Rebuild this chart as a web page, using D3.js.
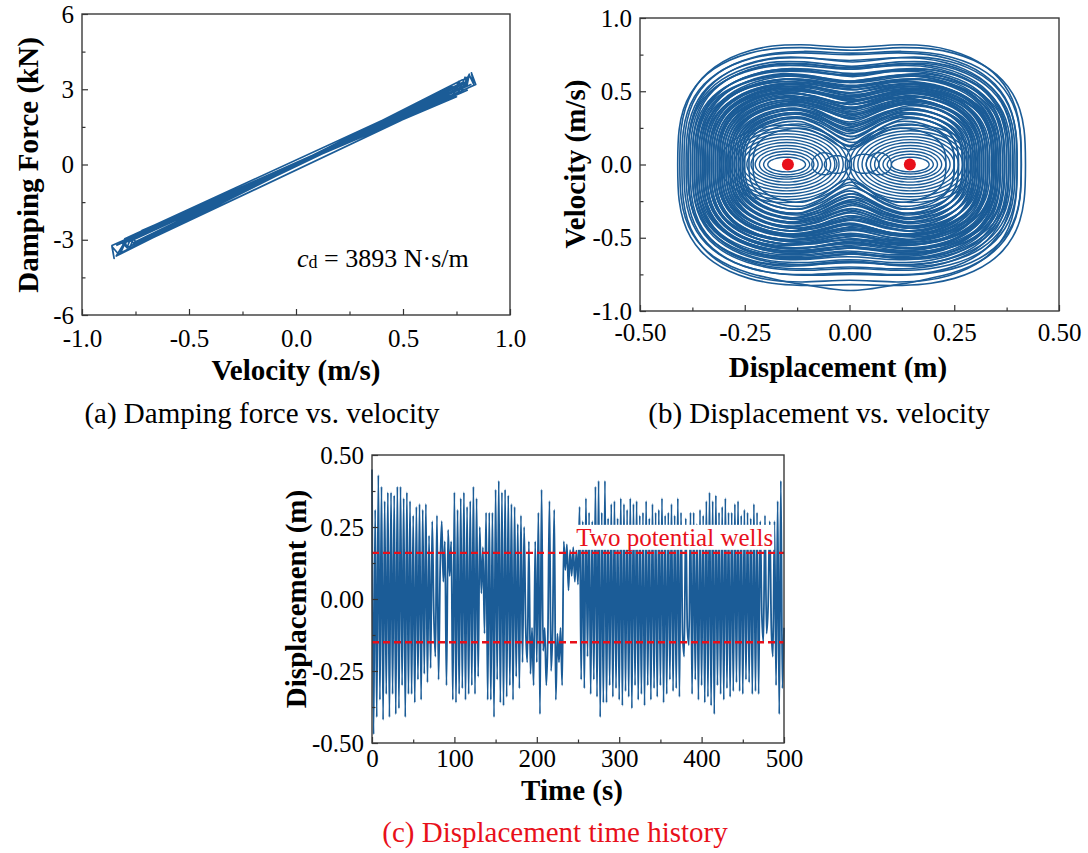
<!DOCTYPE html>
<html>
<head>
<meta charset="utf-8">
<script src="https://cdn.jsdelivr.net/npm/d3@7"></script>
<style>
  body { margin: 0; background: #fff; }
  svg { font-family: "Liberation Serif", "Times New Roman", serif; }
</style>
</head>
<body>
<svg id="fig" width="1088" height="853"></svg>
<script>
// ---- data ----

// (a) damping force vs velocity : turning points of the trace (m/s, kN)
const dampVel   = [-0.84, 0.62, -0.78, 0.70, 0.72, 0.74, 0.76, 0.78, 0.81, 0.83, 0.82, 0.84,
                   -0.70, 0.74, -0.66, 0.73, 0.75, 0.77, 0.79, -0.80, -0.82, -0.79, -0.84,
                   0.78, -0.60, 0.66, -0.74, -0.76, -0.78, 0.81, -0.82, 0.60, -0.76, 0.77, 0.79, 0.80,
                   -0.68, 0.72, -0.86, -0.85, -0.86, -0.83, 0.68, -0.72, 0.75, -0.64, 0.80,
                   -0.77, -0.79, -0.80, 0.71, -0.81, 0.64, -0.70, 0.79, 0.81, 0.80,
                   -0.75, 0.73, -0.62, 0.69, -0.79, -0.81, 0.76, -0.73, 0.58, -0.67, 0.82];
const dampForce = [-3.23, 2.42, -3.08, 2.80, 3.10, 2.92, 3.31, 3.04, 3.56, 3.20, 3.65, 3.19,
                   -2.66, 2.78, -2.44, 2.66, 3.08, 2.85, 3.28, -2.96, -3.53, -2.96, -3.65,
                   3.28, -2.55, 2.84, -3.18, -2.96, -3.39, 3.52, -3.53, 2.52, -3.12, 3.08, 3.48, 3.16,
                   -2.65, 2.74, -3.23, -3.74, -3.27, -3.57, 2.52, -2.63, 2.70, -2.34, 2.96,
                   -2.89, -3.32, -3.04, 2.73, -3.16, 2.56, -2.87, 3.24, 3.60, 3.20,
                   -3.15, 3.10, -2.67, 2.97, -3.32, -3.12, 2.89, -2.74, 2.15, -2.48, 3.20];

// (b) phase portrait : cross-well orbits [xLeft, xRight, vTop, vBottom, vTopMid, vBottomMid]
const crossLoops = [
  [-0.41, 0.42, 0.82, -0.84, 0.78, -0.82],
  [-0.405, 0.41, 0.84, -0.80, 0.80, -0.86],
  [-0.40, 0.40, 0.78, -0.82, 0.75, -0.79],
  [-0.395, 0.41, 0.79, -0.77, 0.76, -0.75],
  [-0.39, 0.39, 0.75, -0.77, 0.71, -0.74],
  [-0.385, 0.40, 0.76, -0.74, 0.70, -0.71],
  [-0.38, 0.38, 0.71, -0.73, 0.66, -0.70],
  [-0.375, 0.39, 0.72, -0.70, 0.65, -0.67],
  [-0.37, 0.37, 0.67, -0.69, 0.61, -0.65],
  [-0.365, 0.38, 0.68, -0.66, 0.60, -0.61],
  [-0.36, 0.36, 0.64, -0.66, 0.57, -0.61],
  [-0.355, 0.37, 0.65, -0.63, 0.56, -0.57],
  [-0.35, 0.35, 0.61, -0.63, 0.53, -0.57],
  [-0.345, 0.36, 0.61, -0.60, 0.51, -0.53],
  [-0.34, 0.34, 0.58, -0.60, 0.49, -0.53],
  [-0.335, 0.35, 0.58, -0.57, 0.47, -0.49],
  [-0.33, 0.33, 0.55, -0.57, 0.45, -0.48],
  [-0.325, 0.34, 0.55, -0.54, 0.43, -0.45],
  [-0.32, 0.32, 0.52, -0.54, 0.41, -0.44],
  [-0.315, 0.33, 0.52, -0.51, 0.39, -0.41],
  [-0.31, 0.31, 0.50, -0.51, 0.37, -0.40],
  [-0.305, 0.32, 0.49, -0.48, 0.35, -0.37],
  [-0.30, 0.30, 0.47, -0.48, 0.33, -0.35],
  [-0.295, 0.31, 0.46, -0.45, 0.31, -0.32],
  [-0.29, 0.29, 0.44, -0.45, 0.29, -0.31],
  [-0.285, 0.30, 0.43, -0.42, 0.27, -0.28],
  [-0.28, 0.28, 0.41, -0.42, 0.25, -0.26],
  [-0.275, 0.29, 0.40, -0.39, 0.23, -0.24],
  [-0.27, 0.27, 0.38, -0.39, 0.21, -0.22],
  [-0.265, 0.28, 0.37, -0.36, 0.19, -0.20],
  [-0.26, 0.26, 0.35, -0.36, 0.17, -0.18],
  [-0.255, 0.27, 0.34, -0.33, 0.15, -0.16],
  [-0.25, 0.25, 0.32, -0.33, 0.13, -0.14],
  [-0.24, 0.25, 0.30, -0.31, 0.12, -0.12],
  [-0.23, 0.23, 0.27, -0.28, 0.10, -0.10],
  [-0.355, 0.345, 0.59, -0.61, 0.53, -0.56],
  [-0.325, 0.355, 0.56, -0.55, 0.48, -0.51],
  [-0.345, 0.325, 0.56, -0.58, 0.46, -0.50],
  [-0.305, 0.315, 0.49, -0.50, 0.41, -0.43],
  [-0.315, 0.295, 0.48, -0.50, 0.38, -0.41],
  [-0.285, 0.305, 0.45, -0.46, 0.34, -0.36],
  [-0.375, 0.365, 0.66, -0.67, 0.61, -0.63],
  [-0.365, 0.385, 0.68, -0.67, 0.62, -0.61],
  [-0.385, 0.375, 0.70, -0.71, 0.65, -0.66],
  [-0.385, 0.395, 0.73, -0.72, 0.67, -0.66],
  [-0.365, 0.355, 0.63, -0.64, 0.57, -0.59],
  [-0.350, 0.360, 0.61, -0.62, 0.54, -0.57],
  [-0.340, 0.350, 0.58, -0.59, 0.51, -0.54],
  [-0.335, 0.345, 0.57, -0.57, 0.49, -0.51],
  [-0.330, 0.340, 0.56, -0.57, 0.47, -0.51],
  [-0.325, 0.330, 0.54, -0.55, 0.46, -0.48],
  [-0.320, 0.325, 0.53, -0.54, 0.44, -0.47],
  [-0.315, 0.335, 0.53, -0.52, 0.44, -0.44],
  [-0.310, 0.320, 0.51, -0.51, 0.41, -0.44],
  [-0.305, 0.310, 0.49, -0.50, 0.39, -0.41],
  [-0.300, 0.315, 0.49, -0.48, 0.38, -0.38],
  [-0.295, 0.300, 0.47, -0.48, 0.36, -0.38],
  [-0.290, 0.305, 0.46, -0.46, 0.34, -0.35],
  [-0.285, 0.290, 0.44, -0.45, 0.32, -0.33],
  [-0.280, 0.295, 0.44, -0.43, 0.31, -0.30],
  [-0.275, 0.280, 0.41, -0.42, 0.28, -0.30],
  [-0.270, 0.285, 0.40, -0.40, 0.26, -0.27],
  [-0.265, 0.270, 0.38, -0.39, 0.24, -0.25],
  [-0.260, 0.275, 0.37, -0.37, 0.22, -0.22],
  [-0.255, 0.260, 0.35, -0.36, 0.19, -0.20],
  [-0.350, 0.380, 0.63, -0.62, 0.56, -0.55],
  [-0.370, 0.350, 0.63, -0.65, 0.56, -0.60],
  [-0.345, 0.370, 0.61, -0.60, 0.53, -0.52],
  [-0.360, 0.340, 0.59, -0.61, 0.52, -0.56],
  [-0.310, 0.345, 0.53, -0.52, 0.44, -0.42],
  [-0.335, 0.310, 0.52, -0.54, 0.42, -0.48]
];
// (b) orbits trapped in one well [xLeft, xRight, vTop, vBottom]
const wellLoops = [
  [-0.195, -0.105, 0.05, -0.05], [-0.205, -0.095, 0.07, -0.07], [-0.215, -0.085, 0.09, -0.085],
  [-0.225, -0.075, 0.11, -0.10], [-0.235, -0.065, 0.13, -0.12], [-0.245, -0.055, 0.15, -0.14],
  [-0.255, -0.045, 0.17, -0.16], [-0.265, -0.035, 0.19, -0.18], [-0.275, -0.025, 0.21, -0.20],
  [-0.285, -0.015, 0.23, -0.22], [-0.295, -0.005, 0.25, -0.24], [-0.310, 0.005, 0.27, -0.26],
  [0.100, 0.190, 0.05, -0.05], [0.090, 0.200, 0.07, -0.065], [0.080, 0.210, 0.09, -0.085],
  [0.070, 0.220, 0.11, -0.10], [0.060, 0.230, 0.13, -0.12], [0.050, 0.240, 0.15, -0.14],
  [0.040, 0.250, 0.17, -0.16], [0.030, 0.260, 0.19, -0.18], [0.020, 0.270, 0.21, -0.20],
  [0.010, 0.280, 0.23, -0.22], [0.000, 0.290, 0.25, -0.24], [-0.010, 0.305, 0.27, -0.26],
  [-0.090, -0.030, 0.08, -0.07], [-0.060, 0.000, 0.06, -0.06], [0.000, 0.070, 0.07, -0.06],
  [0.040, 0.100, 0.08, -0.07]
];
const wellX = [-0.147, 0.144];
const wellV = [0, 0];

// (c) displacement time history : successive extrema (m), evenly spaced in time
const dispPeaks = [
  0.45, -0.47, 0.31, -0.41, 0.43, -0.35, 0.39, -0.42, 0.34, -0.33, 0.37, -0.41, 0.37, -0.33, 0.36, -0.40,
  0.39, -0.38, 0.39, -0.30, 0.35, -0.41, 0.37, -0.33, 0.34, -0.33, 0.29, -0.36, 0.32, -0.28, 0.33, -0.35,
  0.31, -0.26, 0.33, -0.29, 0.22, -0.24, 0.27,
  -0.05, -0.20, 0.29, -0.28, 0.10, 0.27, 0.06, 0.20, -0.30, 0.24, 0.08, 0.20, -0.35, 0.37,
  -0.36, 0.31, -0.33, 0.35, -0.31, 0.37, -0.35, 0.32, -0.33, 0.34, -0.30, 0.39, -0.33, 0.35, -0.27, 0.25,
  0.02, 0.18, -0.12, 0.30, -0.35,
  0.30, -0.35, 0.30, -0.41, 0.38, -0.28, 0.41, -0.36, 0.37, -0.37, 0.38, -0.34, 0.36, -0.30, 0.33, -0.35,
  0.32, -0.27, 0.26, -0.31, 0.29, -0.22, 0.25,
  -0.10, -0.22, 0.20, -0.26, -0.10, -0.30, 0.20, -0.22,
  0.30, -0.40, 0.38, -0.18, -0.10, -0.30, -0.12, 0.34, -0.25, -0.10, 0.31, -0.35, -0.12, -0.22, -0.10, -0.30,
  0.20, 0.10, 0.19, 0.03, 0.17, 0.08, 0.18, 0.06, 0.17, 0.05,
  0.32, -0.28, 0.27, -0.31, 0.35, -0.20, 0.30, -0.33, 0.27, -0.28, 0.39, -0.34, 0.41, -0.41, 0.30, -0.36,
  0.41, -0.36, 0.28, -0.30, 0.33, -0.34, 0.34, -0.31, 0.28, -0.35, 0.35, -0.37, 0.33, -0.32, 0.31, -0.34,
  0.35, -0.38, 0.33, -0.30, 0.34, -0.35, 0.29, -0.33, 0.30, -0.37, 0.34, -0.30, 0.28, -0.35, 0.33, -0.31,
  0.30, -0.34, 0.31, -0.30, 0.35, -0.36, 0.29, -0.33, 0.30, -0.28, 0.33, -0.32, 0.29, -0.31, 0.35, -0.34,
  0.30,
  -0.12, -0.20, 0.28, -0.10, -0.16,
  0.30, -0.33, 0.30, -0.28, 0.26, -0.35, 0.31, -0.30, 0.29, -0.36, 0.34, -0.34, 0.37, -0.37, 0.34, -0.40, 0.36,
  -0.30, 0.30, -0.33, 0.32, -0.35, 0.35, -0.31, 0.30, -0.34, 0.30, -0.32, 0.33, -0.29, 0.34, -0.32, 0.29,
  -0.33, 0.31, -0.28, 0.30, -0.29, 0.28, -0.33, 0.33, -0.32, 0.30, -0.33, 0.27,
  -0.05, -0.15, 0.29, -0.12, -0.02, 0.27, -0.10, -0.20, 0.27, -0.30,
  0.34, -0.40, 0.41, -0.31, -0.10
];
const tEnd = 500;
const wellLines = [0.16, -0.15];

// tick values
const aXTicks = [-1, -0.5, 0, 0.5, 1],        aXMinor = [-0.75, -0.25, 0.25, 0.75];
const aYTicks = [-6, -3, 0, 3, 6],            aYMinor = [-4.5, -1.5, 1.5, 4.5];
const bXTicks = [-0.5, -0.25, 0, 0.25, 0.5],  bXMinor = [-0.375, -0.125, 0.125, 0.375];
const bYTicks = [-1, -0.5, 0, 0.5, 1],        bYMinor = [-0.75, -0.25, 0.25, 0.75];
const cXTicks = [0, 100, 200, 300, 400, 500], cXMinor = [50, 150, 250, 350, 450];
const cYTicks = [-0.5, -0.25, 0, 0.25, 0.5],  cYMinor = [-0.375, -0.125, 0.125, 0.375];

// ---- drawing ----
const blue = "#1b5c97";
const red = "#e8101a";
const svg = d3.select("#fig");

// box + inward ticks on left and bottom
function drawAxes(x, y, o) {
  const g = svg.append("g");
  const [x0, x1] = x.range(), [y0, y1] = y.range();

  const styleAxis = sel => {
    sel.attr("font-family", null).attr("font-size", null);
    sel.select(".domain").remove();
    sel.selectAll(".tick line").attr("stroke", "#333").attr("stroke-width", 1.2);
    sel.selectAll("text").attr("fill", "#000").style("font-size", "25px");
  };

  g.append("g").attr("transform", `translate(0,${y0})`)
    .call(d3.axisBottom(x).tickValues(o.xTicks).tickSizeInner(-6).tickSizeOuter(0)
      .tickPadding(o.xPad).tickFormat(o.xFmt))
    .call(styleAxis);
  g.append("g").attr("transform", `translate(0,${y0})`)
    .call(d3.axisBottom(x).tickValues(o.xMinor).tickSizeInner(-3.5).tickSizeOuter(0).tickFormat(""))
    .call(styleAxis);
  g.append("g").attr("transform", `translate(${x0},0)`)
    .call(d3.axisLeft(y).tickValues(o.yTicks).tickSizeInner(-6).tickSizeOuter(0)
      .tickPadding(8).tickFormat(o.yFmt))
    .call(styleAxis);
  g.append("g").attr("transform", `translate(${x0},0)`)
    .call(d3.axisLeft(y).tickValues(o.yMinor).tickSizeInner(-3.5).tickSizeOuter(0).tickFormat(""))
    .call(styleAxis);

  g.append("rect")
    .attr("x", x0).attr("y", y1)
    .attr("width", x1 - x0).attr("height", y0 - y1)
    .attr("fill", "none").attr("stroke", "#3a3a3a").attr("stroke-width", 1.4);
}

function label(txt, x, y, o = {}) {
  const t = svg.append("text")
    .attr("text-anchor", "middle")
    .attr("font-size", o.size || 29)
    .attr("font-weight", o.bold ? "bold" : null)
    .attr("fill", o.color || "#000")
    .text(txt);
  if (o.rotate) t.attr("transform", `translate(${x},${y}) rotate(-90)`).attr("dy", "0.35em");
  else t.attr("x", x).attr("y", y);
  return t;
}

// ---------- (a) ----------
const xA = d3.scaleLinear().domain([-1, 1]).range([82, 510]);
const yA = d3.scaleLinear().domain([-6, 6]).range([315, 14]);

const lineA = d3.line().x(d => xA(d[0])).y(d => yA(d[1]));
svg.append("path")
  .datum(dampVel.map((v, i) => [v, dampForce[i]]))
  .attr("d", lineA)
  .attr("fill", "none").attr("stroke", blue).attr("stroke-width", 1.7).attr("stroke-linejoin", "round");

drawAxes(xA, yA, {
  xTicks: aXTicks, xMinor: aXMinor, yTicks: aYTicks, yMinor: aYMinor,
  xPad: 14, xFmt: d => d.toFixed(1), yFmt: d => d
});

const cd = svg.append("text").attr("x", xA(0.005)).attr("y", yA(-4.1)).attr("font-size", 26);
cd.append("tspan").attr("font-style", "italic").text("c");
cd.append("tspan").attr("font-size", 18).attr("dy", 1).text("d");
cd.append("tspan").attr("dy", -1).text(" = 3893 N·s/m");

label("Damping Force (kN)", 28, 165, { bold: true, rotate: true });
label("Velocity (m/s)", 296, 380, { bold: true });
label("(a) Damping force vs. velocity", 262, 423);

// ---------- (b) ----------
const xB = d3.scaleLinear().domain([-0.5, 0.5]).range([640, 1059]);
const yB = d3.scaleLinear().domain([-1, 1]).range([311, 18]);

const loopLine = d3.line().x(d => xB(d[0])).y(d => yB(d[1])).curve(d3.curveCatmullRomClosed);
const angles = d3.range(0, 2 * Math.PI, Math.PI / 20);

// cross-well orbit outline: superellipse with a dip over the barrier
function crossPts(d) {
  const [xl, xr, vt, vb, mt, mb] = d, a = (xr - xl) / 2, c = (xl + xr) / 2;
  return angles.map(t => {
    const ct = Math.cos(t), st = Math.sin(t);
    const x = c + a * Math.sign(ct) * Math.pow(Math.abs(ct), 2 / 3);
    const top = st >= 0, vmax = top ? vt : vb, vmid = top ? mt : mb;
    const dip = 1 - (1 - vmid / vmax) * Math.exp(-Math.pow((x - c) / (0.3 * a), 2));
    return [x, vmax * Math.pow(Math.abs(st), 2 / 3) * dip];
  });
}
// single-well orbit outline: ellipse
function wellPts(d) {
  const a = (d[1] - d[0]) / 2, c = (d[0] + d[1]) / 2;
  return angles.map(t => [c + a * Math.cos(t), (Math.sin(t) >= 0 ? d[2] : -d[3]) * Math.sin(t)]);
}

const gB = svg.append("g").attr("fill", "none").attr("stroke", blue).attr("stroke-width", 1.6);
gB.selectAll(".cross").data(crossLoops).join("path")
  .attr("class", "cross").attr("d", d => loopLine(crossPts(d)));
gB.selectAll(".well").data(wellLoops).join("path")
  .attr("class", "well").attr("d", d => loopLine(wellPts(d)))
  .attr("stroke-width", 1.4);

svg.selectAll(".wellDot").data(wellX).join("circle")
  .attr("class", "wellDot")
  .attr("cx", d => xB(d)).attr("cy", (d, i) => yB(wellV[i]))
  .attr("r", 6).attr("fill", red);

drawAxes(xB, yB, {
  xTicks: bXTicks, xMinor: bXMinor, yTicks: bYTicks, yMinor: bYMinor,
  xPad: 12, xFmt: d => d.toFixed(2), yFmt: d => d.toFixed(1)
});

label("Velocity (m/s)", 575, 164, { bold: true, rotate: true });
label("Displacement (m)", 838, 377, { bold: true });
label("(b) Displacement vs. velocity", 819, 423);

// ---------- (c) ----------
const xC = d3.scaleLinear().domain([0, tEnd]).range([372, 784]);
const yC = d3.scaleLinear().domain([-0.5, 0.5]).range([743, 455]);
const step = tEnd / (dispPeaks.length - 1);

const lineC = d3.line().x((d, i) => xC(i * step)).y(d => yC(d)).curve(d3.curveMonotoneX);
svg.append("path")
  .datum(dispPeaks)
  .attr("d", lineC)
  .attr("fill", "none").attr("stroke", blue).attr("stroke-width", 1.8);

svg.selectAll(".wellLine").data(wellLines).join("line")
  .attr("class", "wellLine")
  .attr("x1", xC(0)).attr("x2", xC(tEnd))
  .attr("y1", d => yC(d)).attr("y2", d => yC(d))
  .attr("stroke", red).attr("stroke-width", 2.4).attr("stroke-dasharray", "7,4");

// label with white box behind it
const wellTxt = svg.append("text")
  .attr("x", xC(248)).attr("y", yC(0.215)).attr("dy", "0.35em")
  .attr("font-size", 25).attr("fill", red)
  .text("Two potential wells");
const bb = wellTxt.node().getBBox();
svg.insert("rect", () => wellTxt.node())
  .attr("x", bb.x - 1).attr("y", bb.y + 1)
  .attr("width", bb.width + 2).attr("height", bb.height - 2)
  .attr("fill", "#fff");

drawAxes(xC, yC, {
  xTicks: cXTicks, xMinor: cXMinor, yTicks: cYTicks, yMinor: cYMinor,
  xPad: 6, xFmt: d => d, yFmt: d => d.toFixed(2)
});

label("Displacement (m)", 296, 599, { bold: true, rotate: true });
label("Time (s)", 572, 800, { bold: true });
label("(c) Displacement time history", 555, 842, { color: red });
</script>
</body>
</html>
